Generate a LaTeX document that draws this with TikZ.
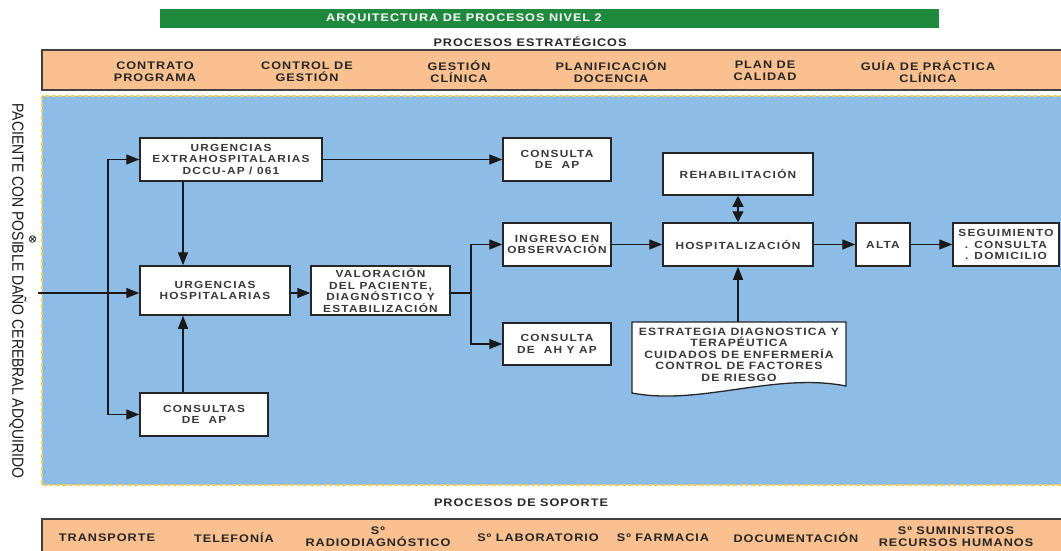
\documentclass[tikz,border=0pt]{standalone}
\usepackage{fontspec}
\setmainfont{Liberation Sans}[FakeStretch=1.15]
\newfontfamily\boxfont{Liberation Sans}[FakeStretch=1.15,LetterSpace=12]
\newfontfamily\docfont{Liberation Sans}[FakeStretch=1.15,LetterSpace=10]
\newfontfamily\headfont{Liberation Sans}[FakeStretch=1.15,LetterSpace=9]
\newfontfamily\sidefont{Liberation Sans}
\usetikzlibrary{arrows.meta}

\definecolor{bargreen}{HTML}{1F8A3D}
\definecolor{peach}{HTML}{FAC08F}
\definecolor{panelblue}{HTML}{8DBCE6}
\definecolor{dashyellow}{HTML}{F2CF5B}
\definecolor{boxtext}{HTML}{383838}
\definecolor{headtext}{HTML}{262626}

\tikzset{
  procbox/.style={draw=black!85, line width=1.5pt, fill=white, inner sep=0pt,
    align=center, text=boxtext,
    font=\boxfont\bfseries\fontsize{10.3}{11.7}\selectfont},
  headitem/.style={align=center, text=headtext, inner sep=0pt,
    font=\headfont\bfseries\fontsize{11}{12}\selectfont},
  arr/.style={line width=1.4pt, black!90, -{Triangle[length=13pt,width=10pt]}},
  link/.style={line width=1.4pt, black!90},
  dblarr/.style={line width=1.4pt, black!90, {Triangle[length=11pt,width=11pt]}-{Triangle[length=11pt,width=11pt]}},
}

\begin{document}
\begin{tikzpicture}[x=1pt,y=-1pt]
\useasboundingbox (0,0) rectangle (1061,550);
\clip (0,0) rectangle (1061,550);
\fill[white] (0,0) rectangle (1061,550);

% title bar
\fill[bargreen] (160,9) rectangle (939,28);
\node[headitem, text=white] (title) at (464,18.5) {ARQUITECTURA DE PROCESOS NIVEL 2};

% strategic processes
\node[headitem] (esttitle) at (530,42) {PROCESOS ESTRATÉGICOS};
\draw[fill=peach, draw=black!75, line width=2pt] (42,50) rectangle (1080,90);
\node[headitem] (e1) at (155,72) {CONTRATO\\PROGRAMA};
\node[headitem] (e2) at (307,72) {CONTROL DE\\GESTIÓN};
\node[headitem] (e3) at (459,72) {GESTIÓN\\CLÍNICA};
\node[headitem] (e4) at (611,72) {PLANIFICACIÓN\\DOCENCIA};
\node[headitem] (e5) at (765,71) {PLAN DE\\CALIDAD};
\node[headitem] (e6) at (928,72) {GUÍA DE PRÁCTICA\\CLÍNICA};

% operative panel
\fill[panelblue] (42,96) rectangle (1080,485);
\draw[dashyellow, line width=1.5pt, dash pattern=on 4pt off 2.5pt] (42,96) rectangle (1080,485);

% side label
\node[rotate=-90, text=black!90, inner sep=0pt, font=\sidefont\fontsize{14}{16}\selectfont] (side) at (18,291)
  {\scalebox{1}[1.15]{PACIENTE CON POSIBLE DAÑO CEREBRAL ADQUIRIDO}};
\draw[line width=0.8pt, black!80] (32.5,239) circle (3.3pt);
\draw[line width=0.8pt, black!80] (30.2,236.7) -- (34.8,241.3) (30.2,241.3) -- (34.8,236.7);

% process boxes
\node[procbox, minimum width=182pt, minimum height=43pt] (uex) at (231,159.5) {URGENCIAS\\EXTRAHOSPITALARIAS\\DCCU-AP / 061};
\node[procbox, minimum width=108pt, minimum height=43pt] (cap1) at (557,159.5) {CONSULTA\\DE~ AP};
\node[procbox, minimum width=108pt, minimum height=43pt] (ing) at (557,244.5) {INGRESO EN\\OBSERVACIÓN};
\node[procbox, minimum width=150pt, minimum height=49pt] (uh) at (215,290.5) {URGENCIAS\\HOSPITALARIAS};
\node[procbox, minimum width=139pt, minimum height=49pt] (val) at (380.5,290.5) {VALORACIÓN\\DEL PACIENTE,\\DIAGNÓSTICO Y\\ESTABILIZACIÓN};
\node[procbox, minimum width=108pt, minimum height=42pt] (cah) at (557,344) {CONSULTA\\DE~ AH Y AP};
\node[procbox, minimum width=128pt, minimum height=43pt] (cap2) at (204,414.5) {CONSULTAS\\DE~ AP};
\node[procbox, minimum width=150pt, minimum height=42pt] (reh) at (738,174) {REHABILITACIÓN};
\node[procbox, minimum width=150pt, minimum height=43pt] (hosp) at (738,244.5) {HOSPITALIZACIÓN};
\node[procbox, minimum width=54pt, minimum height=43pt] (alta) at (883,244.5) {ALTA};
\node[procbox, minimum width=106pt, minimum height=43pt] (seg) at (1006,244.5) {SEGUIMIENTO\\. CONSULTA\\. DOMICILIO};

% document shape
\draw[line width=1.3pt, draw=black!85, fill=white] (632,322) -- (846,322) -- (846,386)
  .. controls (775,372) and (700,406) .. (632,393) -- cycle;
\coordinate (doctop) at (738,322);
\node[align=center, text=boxtext, inner sep=0pt,
  font=\docfont\bfseries\fontsize{10.6}{11.5}\selectfont] (doc) at (739,354.5)
  {ESTRATEGIA DIAGNOSTICA Y\\TERAPÉUTICA\\CUIDADOS DE ENFERMERÍA\\CONTROL DE FACTORES\\DE RIESGO};

% connectors
\coordinate (entry) at (38,293);
\coordinate (trunk) at (108,293);
\coordinate (vx) at (183,0);
\coordinate (br) at (471,293);
\draw[arr] (entry) -- (entry -| uh.west);
\draw[arr] (trunk) |- (uex.west);
\draw[arr] (trunk) |- (cap2.west);
\draw[arr] (uex.south -| vx) -- (uh.north -| vx);
\draw[arr] (cap2.north -| vx) -- (uh.south -| vx);
\draw[arr] (uex.east) -- (cap1.west);
\draw[arr] (uh.east |- entry) -- (val.west |- entry);
\draw[link] (val.east |- br) -- (br);
\draw[arr] (br) |- (ing.west);
\draw[arr] (br) |- (cah.west);
\draw[arr] (ing.east) -- (hosp.west);
\draw[arr] (hosp.east) -- (alta.west);
\draw[arr] (alta.east) -- (seg.west);
\draw[dblarr] (reh.south) -- (hosp.north);
\draw[arr] (doctop) -- (hosp.south);

% support processes
\node[headitem] (soptitle) at (521,503) {PROCESOS DE SOPORTE};
\draw[fill=peach, draw=black!75, line width=2pt] (42,519) rectangle (1080,570);
\node[headitem] (s1) at (107,538) {TRANSPORTE};
\node[headitem] (s2) at (234,538) {TELEFONÍA};
\node[headitem] (s3) at (378,537) {Sº\\RADIODIAGNÓSTICO};
\node[headitem] (s4) at (538,538) {Sº LABORATORIO};
\node[headitem] (s5) at (663,538) {Sº FARMACIA};
\node[headitem] (s6) at (796,538) {DOCUMENTACIÓN};
\node[headitem] (s7) at (956,537) {Sº SUMINISTROS\\RECURSOS HUMANOS};
\end{tikzpicture}
\end{document}
